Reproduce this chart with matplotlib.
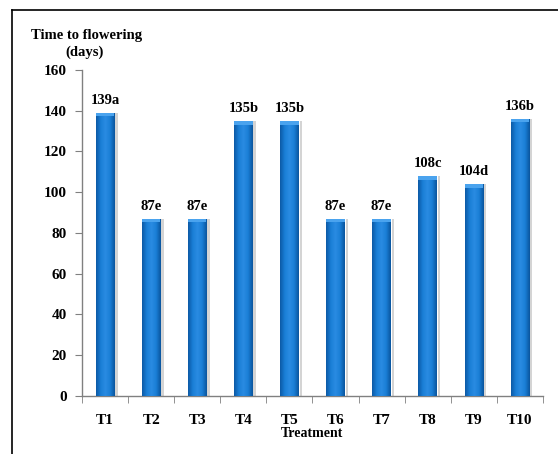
import numpy as np
import matplotlib
matplotlib.use("Agg")
import matplotlib.pyplot as plt
from matplotlib.colors import LinearSegmentedColormap
from matplotlib.lines import Line2D

treatments = ["T1", "T2", "T3", "T4", "T5", "T6", "T7", "T8", "T9", "T10"]
days = [139, 87, 87, 135, 135, 87, 87, 108, 104, 136]
letters = ["a", "e", "e", "b", "b", "e", "e", "c", "d", "b"]

plt.rcParams["font.family"] = ["Liberation Serif", "DejaVu Serif"]
plt.rcParams["font.weight"] = "bold"

fig = plt.figure(figsize=(5.58, 4.54), dpi=100)
ax = fig.add_axes([0.147, 0.128, 0.826, 0.718])

x = np.arange(len(treatments))
width = 0.4
bars = ax.bar(x, days, width=width, color="#0b6cc4", zorder=2)

# cylinder-like shading across each bar
shade = LinearSegmentedColormap.from_list(
    "shade", ["#0c5aa6", "#1a7ed6", "#2a8ce2", "#1a7ed6", "#0a559e"])
grad = np.linspace(0, 1, 64).reshape(1, -1)
for b in bars:
    bx, bw, bh = b.get_x(), b.get_width(), b.get_height()
    im = ax.imshow(grad, cmap=shade, aspect="auto", zorder=3,
                   extent=[bx, bx + bw, 0, bh])
    im.set_clip_path(b)
    # soft shadow on the right side
    ax.bar(bx + bw + 0.02, bh, width=0.05, align="edge",
           color="#b8b8b8", alpha=0.6, zorder=1)
    # lighter cap at the top
    ax.bar(bx, 1.8, width=bw, bottom=bh - 1.8, align="edge",
           color="#4aa3ee", zorder=4)

for xi, v, l in zip(x, days, letters):
    ax.text(xi, v + 3, f"{v}{l}", ha="center", va="bottom",
            fontsize=10.5, fontweight="bold")

ax.set_xlim(-0.5, len(treatments) - 0.5)
ax.set_ylim(0, 160)
ax.set_yticks(range(0, 161, 20))
ax.set_xticks(x)
ax.set_xticklabels(treatments, fontsize=11, fontweight="bold")
ax.set_xticks(np.arange(-0.5, len(treatments)), minor=True)
ax.tick_params(axis="x", which="major", length=0, pad=13)
ax.tick_params(axis="x", which="minor", length=5, color="#808080",
               direction="out")
ax.tick_params(axis="y", length=5, color="#808080", direction="out",
               labelsize=11, pad=6)
for t in ax.get_yticklabels():
    t.set_fontweight("bold")

for s in ["top", "right"]:
    ax.spines[s].set_visible(False)
for s in ["left", "bottom"]:
    ax.spines[s].set_color("#808080")
    ax.spines[s].set_linewidth(1.0)

ax.set_xlabel("Treatment", fontsize=10, fontweight="bold", labelpad=0)
fig.text(0.156, 0.921, "Time to flowering", ha="center", va="center",
         fontsize=10.5, fontweight="bold")
fig.text(0.152, 0.885, "(days)", ha="center", va="center",
         fontsize=10.5, fontweight="bold")

# outer frame (left and top edges)
fig.add_artist(Line2D([0.022, 0.022], [0.0, 0.978], color="black", lw=1.2,
                      transform=fig.transFigure))
fig.add_artist(Line2D([0.022, 1.0], [0.978, 0.978], color="black", lw=1.2,
                      transform=fig.transFigure))

fig.savefig("out.png", dpi=100)
